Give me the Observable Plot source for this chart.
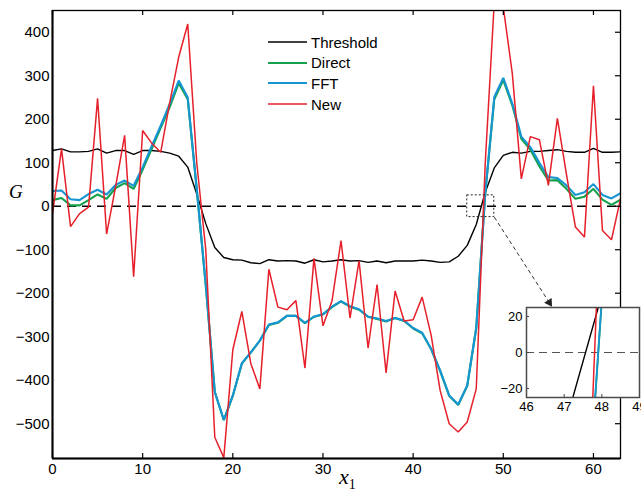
<!DOCTYPE html>
<html>
<head>
<meta charset="utf-8">
<script src="https://cdn.jsdelivr.net/npm/d3@7"></script>
<script src="https://cdn.jsdelivr.net/npm/@observablehq/plot@0.6"></script>
<style>
  html, body { margin: 0; padding: 0; background: #fff; overflow: hidden; }
  #wrap { position: relative; width: 641px; height: 490px; overflow: hidden;
          font-family: "Liberation Sans", Arial, Helvetica, sans-serif; color: #000; }
  #wrap svg { display: block; }
  .abs { position: absolute; }
  .legend-row { position: absolute; display: flex; align-items: center; height: 20px; font-size: 15px; white-space: nowrap; }
  .legend-row svg { margin-right: 4px; }
</style>
</head>
<body>
<div id="wrap"></div>
<script>
// Sample index along the signal
const x1 = [0,1,2,3,4,5,6,7,8,9,10,11,12,13,14,15,16,17,18,19,20,21,22,23,24,25,26,27,28,29,30,31,
            32,33,34,35,36,37,38,39,40,41,42,43,44,45,46,47,48,49,50,51,52,53,54,55,56,57,58,59,60,61,62,63];

// G computed four ways
const threshold = [128,132,125,125,126,132,122,128,128,119,128,128,126,122,115,90,
                   28,-40,-95,-118,-123,-124,-130,-132,-123,-126,-125,-126,-131,-123,-128,-126,
                   -123,-126,-125,-129,-126,-130,-126,-126,-126,-124,-126,-129,-128,-115,-90,-42,
                   32,88,117,124,122,126,126,128,130,126,124,124,133,124,124,125];
const direct = [14,19,2,2,14,27,17,42,53,40,84,132,180,228,283,246,
                38,-182,-427,-492,-436,-362,-336,-309,-273,-268,-252,-252,-269,-254,-249,-232,
                -219,-231,-238,-254,-259,-265,-257,-264,-281,-292,-329,-379,-436,-457,-413,-280,
                29,246,290,232,155,130,92,59,60,40,17,22,40,15,3,15];
const fft = [35,36,16,14,28,38,27,49,59,47,90,138,185,235,289,250,
             40,-180,-427,-491,-435,-361,-336,-309,-272,-267,-252,-252,-268,-254,-248,-231,
             -218,-230,-237,-254,-258,-264,-257,-263,-280,-291,-328,-378,-435,-456,-412,-280,
             30,251,295,236,160,136,100,67,65,48,26,32,51,26,18,30];
const newMethod = [-17,132,-47,-17,-2,248,-64,45,163,-162,174,145,124,238,343,419,
                   100,-100,-531,-578,-330,-242,-362,-420,-145,-232,-238,-217,-372,-120,-275,-218,
                   -79,-257,-125,-326,-180,-383,-195,-264,-261,-209,-297,-424,-500,-519,-496,-420,
                   100,470,458,305,63,160,153,48,202,74,-48,-71,277,-56,-77,17];

const seriesNames = ["Threshold", "Direct", "FFT", "New"];
const seriesColors = ["#000000", "#14a04c", "#1795d2", "#e6202a"];
const seriesWidths = [1.4, 2.1, 2.1, 1.5];

const xTicks = [0, 10, 20, 30, 40, 50, 60];
const yTicks = [-500, -400, -300, -200, -100, 0, 100, 200, 300, 400];
const xDomain = [0, 63];
const yDomain = [-580, 450];

// Zoomed region around the zero crossing near x1 = 48
const zoomX = [46, 49];
const zoomY = [-25, 25];
const insetXTicks = [46, 47, 48, 49];
const insetYTicks = [-20, 0, 20];
const arrowTip = {x: 55.4, y: -231};

const rows = x1.map((x, i) => ({
  x, Threshold: threshold[i], Direct: direct[i], FFT: fft[i], New: newMethod[i]
}));

const W = 641, H = 490;
const M = {top: 10, right: 21, bottom: 32, left: 52};
const fw = W - M.left - M.right;
const fh = H - M.top - M.bottom;
const font = '"Liberation Sans", Arial, Helvetica, sans-serif';
const intFmt = d3.format("d");

const lineMarks = (widths) => seriesNames.map((name, k) =>
  Plot.line(rows, {x: "x", y: name, stroke: seriesColors[k], strokeWidth: widths[k],
                   strokeLinejoin: "miter", clip: true}));

// Arrow from the zoom box corner to the inset; head placed just behind the tip
const kx = fw / (xDomain[1] - xDomain[0]);
const ky = fh / (yDomain[1] - yDomain[0]);
const arrowStart = {x: zoomX[1], y: zoomY[0]};
const dpx = (arrowTip.x - arrowStart.x) * kx;
const dpy = -(arrowTip.y - arrowStart.y) * ky;
const len = Math.hypot(dpx, dpy);
const ux = dpx / len, uy = dpy / len;
const headBack = 5;
const headCenter = {x: arrowTip.x - headBack * ux / kx, y: arrowTip.y + headBack * uy / ky};
const headAngle = Math.atan2(ux, -uy) * 180 / Math.PI;

const main = Plot.plot({
  width: W, height: H,
  marginTop: M.top, marginRight: M.right, marginBottom: M.bottom, marginLeft: M.left,
  x: {domain: xDomain},
  y: {domain: yDomain},
  style: {fontFamily: font, fontSize: "15px", color: "#000", background: "transparent", overflow: "visible"},
  marks: [
    Plot.ruleY([0], {stroke: "#000", strokeWidth: 1.3, strokeDasharray: "9,6"}),
    ...lineMarks(seriesWidths),
    Plot.rect([{x1: zoomX[0], x2: zoomX[1], y1: zoomY[0], y2: zoomY[1]}],
      {x1: "x1", x2: "x2", y1: "y1", y2: "y2", fill: "none", stroke: "#222", strokeWidth: 1, strokeDasharray: "2,2"}),
    Plot.link([{x1: arrowStart.x, y1: arrowStart.y, x2: headCenter.x, y2: headCenter.y}],
      {x1: "x1", y1: "y1", x2: "x2", y2: "y2", stroke: "#333", strokeWidth: 1, strokeDasharray: "4,3"}),
    Plot.dot([headCenter], {x: "x", y: "y", symbol: "triangle", r: 3.3, fill: "#222", stroke: "none", rotate: headAngle}),
    Plot.frame({stroke: "#000", strokeWidth: 1.3}),
    Plot.ruleX([xDomain[0]], {stroke: "#000", strokeWidth: 2}),
    Plot.ruleY([yDomain[0]], {stroke: "#000", strokeWidth: 2}),
    Plot.ruleX(xTicks, {x: d => d, insetBottom: fh - 5, stroke: "#000", strokeWidth: 1.2}),
    Plot.ruleX(xTicks, {x: d => d, insetTop: fh - 5, stroke: "#000", strokeWidth: 1.2}),
    Plot.ruleY(yTicks, {y: d => d, insetLeft: fw - 5, stroke: "#000", strokeWidth: 1.2}),
    Plot.axisX({ticks: xTicks, tickSize: 0, tickPadding: 5, label: null, fontSize: 15}),
    Plot.axisY({ticks: yTicks, tickSize: 0, tickPadding: 3, label: null, fontSize: 15})
  ]
});

// Inset: close-up of the crossing
const IM = {top: 2, right: 12, bottom: 22, left: 30};
const iw = 113, ih = 90;
const inset = Plot.plot({
  width: IM.left + iw + IM.right, height: IM.top + ih + IM.bottom,
  marginTop: IM.top, marginRight: IM.right, marginBottom: IM.bottom, marginLeft: IM.left,
  x: {domain: zoomX},
  y: {domain: zoomY},
  style: {fontFamily: font, fontSize: "13px", color: "#000", background: "transparent", overflow: "visible"},
  marks: [
    Plot.frame({fill: "#fff", stroke: "none"}),
    Plot.ruleY([0], {stroke: "#555", strokeWidth: 1.2, strokeDasharray: "8,5"}),
    ...lineMarks([1.4, 1.8, 1.8, 1.5]),
    Plot.ruleX(insetXTicks, {x: d => d, insetTop: ih - 3, stroke: "#444"}),
    Plot.ruleY(insetYTicks, {y: d => d, insetRight: iw - 3, stroke: "#444"}),
    Plot.frame({stroke: "#4a4a4a", strokeWidth: 1.5}),
    Plot.axisX({ticks: insetXTicks, tickFormat: intFmt, tickSize: 0, tickPadding: 4, label: null, fontSize: 13}),
    Plot.axisY({ticks: insetYTicks, tickSize: 0, tickPadding: 4, label: null, fontSize: 13})
  ]
});

const wrap = document.getElementById("wrap");
main.classList.add("abs");
main.style.left = "0px"; main.style.top = "0px";
wrap.appendChild(main);

inset.classList.add("abs");
inset.style.left = (526 - IM.left) + "px";
inset.style.top = (307 - IM.top) + "px";
wrap.appendChild(inset);

// Legend
seriesNames.forEach((name, k) => {
  const row = document.createElement("div");
  row.className = "legend-row";
  row.style.left = "268px";
  row.style.top = (32 + k * 20.7) + "px";
  row.innerHTML = `<svg width="39" height="4"><line x1="0" x2="39" y1="2" y2="2" stroke="${seriesColors[k]}" stroke-width="${seriesWidths[k]}"/></svg><span>${name}</span>`;
  wrap.appendChild(row);
});

// Axis labels
const gLab = document.createElement("div");
gLab.className = "abs";
gLab.style.cssText = "left:9px; top:182px; font: italic 19px 'Liberation Serif', 'Times New Roman', serif; line-height:19px;";
gLab.textContent = "G";
wrap.appendChild(gLab);

const xLab = document.createElement("div");
xLab.className = "abs";
xLab.style.cssText = "left:339px; top:466px; font: italic 22px 'Liberation Serif', 'Times New Roman', serif; line-height:22px; white-space:nowrap;";
xLab.innerHTML = 'x<span style="font-style:normal; font-size:14px; position:relative; top:5px;">1</span>';
wrap.appendChild(xLab);
</script>
</body>
</html>
